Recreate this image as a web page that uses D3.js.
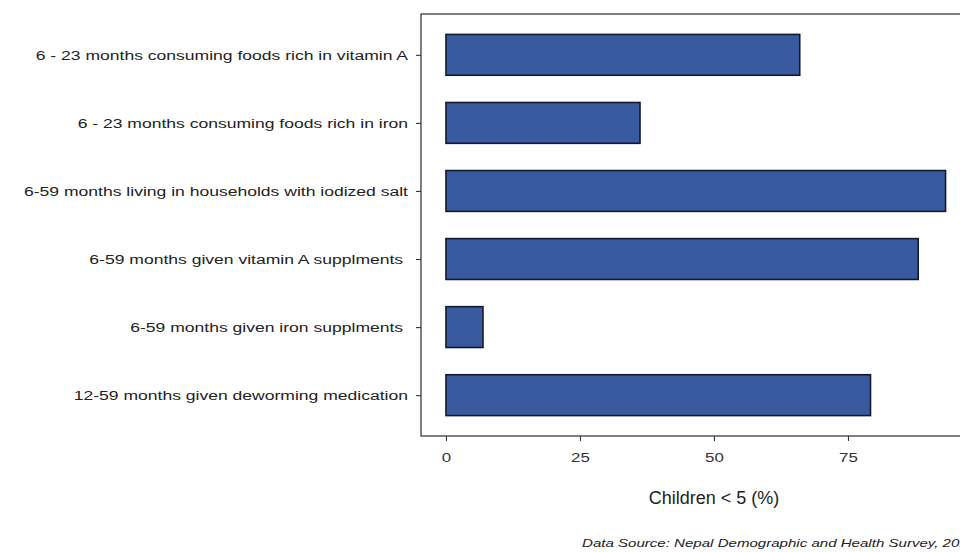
<!DOCTYPE html>
<html>
<head>
<meta charset="utf-8">
<script src="https://cdn.jsdelivr.net/npm/d3@7"></script>
<style>
  body { margin: 0; background: #fff; }
  svg { display: block; font-family: "Liberation Sans", Arial, sans-serif; }
  .y.axis text { white-space: pre; }
</style>
</head>
<body>
<div id="chart"></div>
<script>
// categories, top to bottom
const categories = [
  "6 - 23 months consuming foods rich in vitamin A",
  "6 - 23 months consuming foods rich in iron",
  "6-59 months living in households with iodized salt",
  "6-59 months given vitamin A supplments ",
  "6-59 months given iron supplments ",
  "12-59 months given deworming medication"
];
const values = [66.0, 36.2, 93.2, 88.1, 6.9, 79.2];
const xTicks = [0, 25, 50, 75];
const xTitle = "Children < 5 (%)";
const caption = "Data Source: Nepal Demographic and Health Survey, 2016";

const width = 960, height = 552;
const margin = { top: 14, left: 421, bottom: 116 };
const innerHeight = height - margin.top - margin.bottom;
// the source picture is stretched sideways, small text included
const stretch = 1.3;

const svg = d3.select('#chart').append('svg')
  .attr('width', width)
  .attr('height', height);

// ggplot style 5% expansion on a continuous axis
const xMax = d3.max(values);
const pad = xMax * 0.05;
const pxPerUnit = 5.36;
const panelW = (xMax + 2 * pad) * pxPerUnit;

const xScale = d3.scaleLinear()
  .domain([-pad, xMax + pad])
  .range([0, panelW]);

// discrete axis: 0.6 unit expansion each side, bar width 0.6
const yScale = d3.scalePoint()
  .domain(categories)
  .range([0, innerHeight])
  .padding(0.6);
const barH = yScale.step() * 0.6;

const panel = svg.append('g')
  .attr('transform', `translate(${margin.left},${margin.top})`);

panel.selectAll('rect.bar')
  .data(categories.map((c, i) => ({ c, v: values[i] })))
  .enter().append('rect')
  .attr('class', 'bar')
  .attr('x', xScale(0))
  .attr('y', d => yScale(d.c) - barH / 2)
  .attr('width', d => xScale(d.v) - xScale(0))
  .attr('height', barH)
  .attr('fill', '#3a5aa0')
  .attr('stroke', '#111a2e')
  .attr('stroke-width', 1.6);

// panel border
panel.append('rect')
  .attr('x', 0).attr('y', 0)
  .attr('width', panelW).attr('height', innerHeight)
  .attr('fill', 'none')
  .attr('stroke', '#3c3c3c')
  .attr('stroke-width', 1.3);

// axes
const yAxis = panel.append('g')
  .attr('class', 'y axis')
  .call(d3.axisLeft(yScale).tickSize(5));

const xAxis = panel.append('g')
  .attr('class', 'x axis')
  .attr('transform', `translate(0,${innerHeight})`)
  .call(d3.axisBottom(xScale).tickValues(xTicks).tickSize(5).tickPadding(12));

svg.selectAll('.axis .domain').remove();
svg.selectAll('.axis line').attr('stroke', '#333').attr('stroke-width', 1.1);

yAxis.selectAll('text')
  .attr('font-size', 13.5)
  .attr('fill', '#222')
  .attr('x', -13 / stretch)
  .attr('transform', `scale(${stretch},1)`);

xAxis.selectAll('text')
  .attr('font-size', 13)
  .attr('fill', '#333')
  .attr('transform', `scale(${stretch},1)`);

// axis title
svg.append('text')
  .attr('x', margin.left + xScale(50))
  .attr('y', 504)
  .attr('text-anchor', 'middle')
  .attr('font-size', 18)
  .attr('fill', '#222')
  .text(xTitle);

// caption, runs past the right edge like the source
svg.append('text')
  .attr('transform', `translate(582,547) scale(${stretch + 0.07},1)`)
  .attr('font-size', 11)
  .attr('font-style', 'italic')
  .attr('fill', '#222')
  .text(caption);
</script>
</body>
</html>
